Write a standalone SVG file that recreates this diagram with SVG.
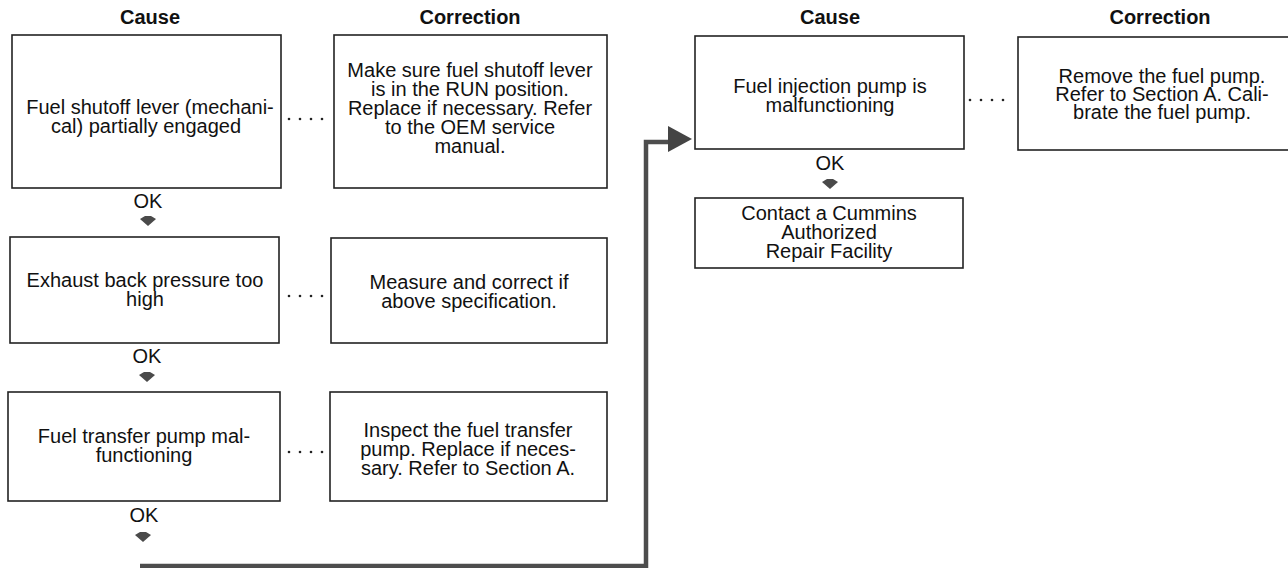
<svg xmlns="http://www.w3.org/2000/svg" width="1288" height="568" viewBox="0 0 1288 568">
  <style>
    .box { fill: #fff; stroke: #222; stroke-width: 1.6; }
    .txt { font-family: "Liberation Sans", Arial, sans-serif; font-size: 20px; fill: #111; text-anchor: middle; }
    .hdr { font-family: "Liberation Sans", Arial, sans-serif; font-size: 20px; font-weight: bold; fill: #111; text-anchor: middle; }
    .dot { fill: #222; }
    .ok-arrow { fill: #4a4a4a; }
    .flow { fill: none; stroke: #4d4d4d; stroke-width: 4.5; }
  </style>
  <defs>
    <path id="down" class="ok-arrow" d="M-3,-5 L3,-5 L8,-2 L0,5 L-8,-2 Z"/>
    <g id="dots">
      <circle class="dot" cx="0" cy="0" r="1.3"/>
      <circle class="dot" cx="11" cy="0" r="1.3"/>
      <circle class="dot" cx="22" cy="0" r="1.3"/>
      <circle class="dot" cx="33" cy="0" r="1.3"/>
    </g>
  </defs>
  <rect width="1288" height="568" fill="#fff"/>

  <!-- column headings -->
  <g id="headings">
    <text class="hdr" x="150" y="24">Cause</text>
    <text class="hdr" x="470" y="24">Correction</text>
    <text class="hdr" x="830" y="24">Cause</text>
    <text class="hdr" x="1160" y="24">Correction</text>
  </g>

  <!-- connectors -->
  <g id="connectors">
    <use href="#dots" x="289" y="119"/>
    <use href="#dots" x="289" y="296"/>
    <use href="#dots" x="289" y="452"/>
    <use href="#dots" x="970" y="100"/>
    <text class="txt" x="148" y="208">OK</text>
    <use href="#down" x="148" y="221"/>
    <text class="txt" x="147" y="363">OK</text>
    <use href="#down" x="147" y="377"/>
    <text class="txt" x="144" y="522">OK</text>
    <use href="#down" x="143" y="537"/>
    <text class="txt" x="830" y="170">OK</text>
    <use href="#down" x="830" y="184"/>
    <path class="flow" d="M140,566 H646 V142 H670"/>
    <polygon fill="#444" points="668,126 692,139 668,152"/>
  </g>

  <!-- cause 1 -->
  <g id="cause1">
    <rect class="box" x="12" y="35" width="269" height="153"/>
    <text class="txt" x="150" y="114">Fuel shutoff lever (mechani-</text>
    <text class="txt" x="146" y="133">cal) partially engaged</text>
  </g>
  <g id="correction1">
    <rect class="box" x="334" y="35" width="273" height="153"/>
    <text class="txt" x="470" y="77">Make sure fuel shutoff lever</text>
    <text class="txt" x="470" y="96">is in the RUN position.</text>
    <text class="txt" x="470" y="115">Replace if necessary. Refer</text>
    <text class="txt" x="470" y="134">to the OEM service</text>
    <text class="txt" x="470" y="153">manual.</text>
  </g>

  <!-- cause 2 -->
  <g id="cause2">
    <rect class="box" x="10" y="237" width="269" height="106"/>
    <text class="txt" x="145" y="287">Exhaust back pressure too</text>
    <text class="txt" x="145" y="306">high</text>
  </g>
  <g id="correction2">
    <rect class="box" x="331" y="238" width="276" height="105"/>
    <text class="txt" x="469" y="289">Measure and correct if</text>
    <text class="txt" x="469" y="308">above specification.</text>
  </g>

  <!-- cause 3 -->
  <g id="cause3">
    <rect class="box" x="8" y="392" width="272" height="109"/>
    <text class="txt" x="144" y="443">Fuel transfer pump mal-</text>
    <text class="txt" x="144" y="462">functioning</text>
  </g>
  <g id="correction3">
    <rect class="box" x="330" y="392" width="277" height="109"/>
    <text class="txt" x="468" y="437">Inspect the fuel transfer</text>
    <text class="txt" x="468" y="456">pump. Replace if neces-</text>
    <text class="txt" x="468" y="475">sary. Refer to Section A.</text>
  </g>

  <!-- cause 4 -->
  <g id="cause4">
    <rect class="box" x="695" y="36" width="269" height="113"/>
    <text class="txt" x="830" y="93">Fuel injection pump is</text>
    <text class="txt" x="830" y="112">malfunctioning</text>
  </g>
  <g id="correction4">
    <rect class="box" x="1018" y="37" width="290" height="113"/>
    <text class="txt" x="1162" y="83">Remove the fuel pump.</text>
    <text class="txt" x="1162" y="101">Refer to Section A. Cali-</text>
    <text class="txt" x="1162" y="119">brate the fuel pump.</text>
  </g>

  <!-- final step -->
  <g id="contact">
    <rect class="box" x="695" y="198" width="268" height="70"/>
    <text class="txt" x="829" y="220">Contact a Cummins</text>
    <text class="txt" x="829" y="239">Authorized</text>
    <text class="txt" x="829" y="258">Repair Facility</text>
  </g>
</svg>
